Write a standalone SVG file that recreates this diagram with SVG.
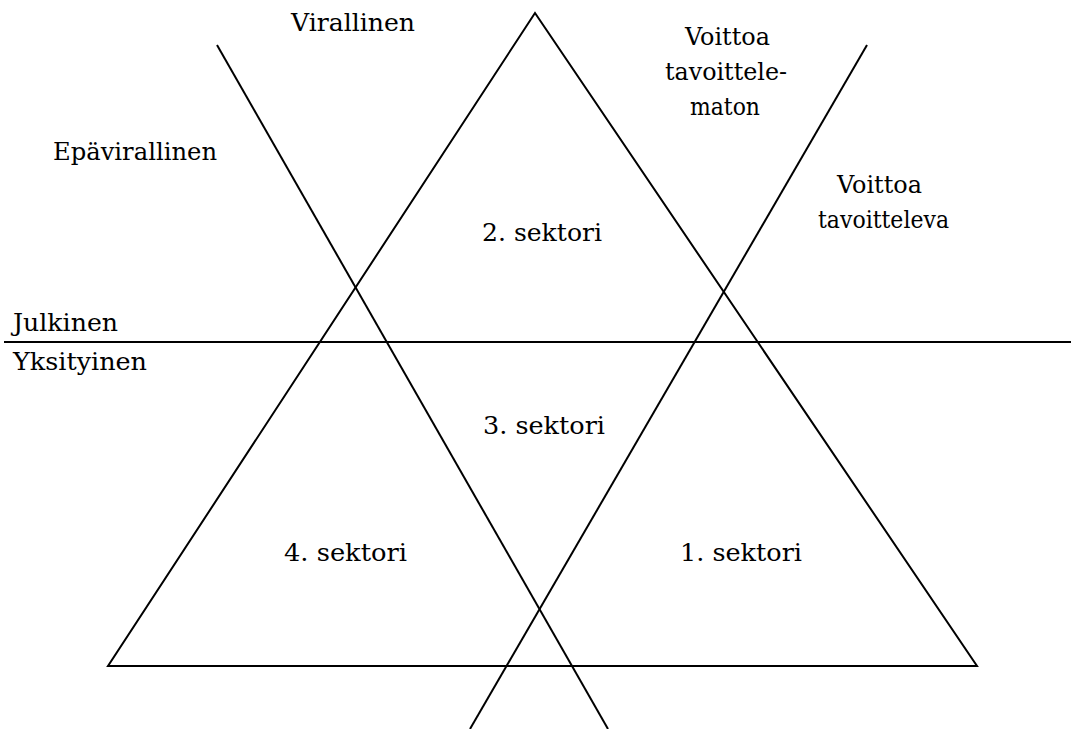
<svg xmlns="http://www.w3.org/2000/svg" width="1071" height="729" viewBox="0 0 1071 729">
<style>
.ln{stroke:#000;stroke-width:2;fill:none}
.t{font-family:"DejaVu Serif","Liberation Serif",serif;font-size:24px;fill:#000}
</style>
<rect width="1071" height="729" fill="#fff"/>
<g id="connectors">
<polygon class="ln" points="535,13 108,666 977,666"/>
<line class="ln" x1="4" y1="342" x2="1071" y2="342"/>
<line class="ln" x1="217" y1="45" x2="608" y2="729"/>
<line class="ln" x1="867" y1="45" x2="470" y2="729"/>
</g>
<g class="t">
<g id="virallinen"><text x="291" y="31" textLength="124" lengthAdjust="spacingAndGlyphs">Virallinen</text></g>
<g id="epavirallinen"><text x="53" y="160" textLength="164" lengthAdjust="spacingAndGlyphs">Epävirallinen</text></g>
<g id="voittoa-tavoittelematon"><text x="685" y="45" textLength="85" lengthAdjust="spacingAndGlyphs">Voittoa</text><text x="665" y="80" textLength="122" lengthAdjust="spacingAndGlyphs">tavoittele-</text><text x="690" y="115" textLength="70" lengthAdjust="spacingAndGlyphs">maton</text></g>
<g id="voittoa-tavoitteleva"><text x="837" y="193" textLength="85" lengthAdjust="spacingAndGlyphs">Voittoa</text><text x="818" y="228" textLength="131" lengthAdjust="spacingAndGlyphs">tavoitteleva</text></g>
<g id="julkinen"><text x="13" y="331" textLength="105" lengthAdjust="spacingAndGlyphs">Julkinen</text></g>
<g id="yksityinen"><text x="13" y="370" textLength="134" lengthAdjust="spacingAndGlyphs">Yksityinen</text></g>
<g id="sektori2"><text x="482" y="241" textLength="120" lengthAdjust="spacingAndGlyphs">2. sektori</text></g>
<g id="sektori3"><text x="483" y="434" textLength="122" lengthAdjust="spacingAndGlyphs">3. sektori</text></g>
<g id="sektori4"><text x="284" y="561" textLength="123" lengthAdjust="spacingAndGlyphs">4. sektori</text></g>
<g id="sektori1"><text x="680" y="561" textLength="122" lengthAdjust="spacingAndGlyphs">1. sektori</text></g>
</g>
</svg>
